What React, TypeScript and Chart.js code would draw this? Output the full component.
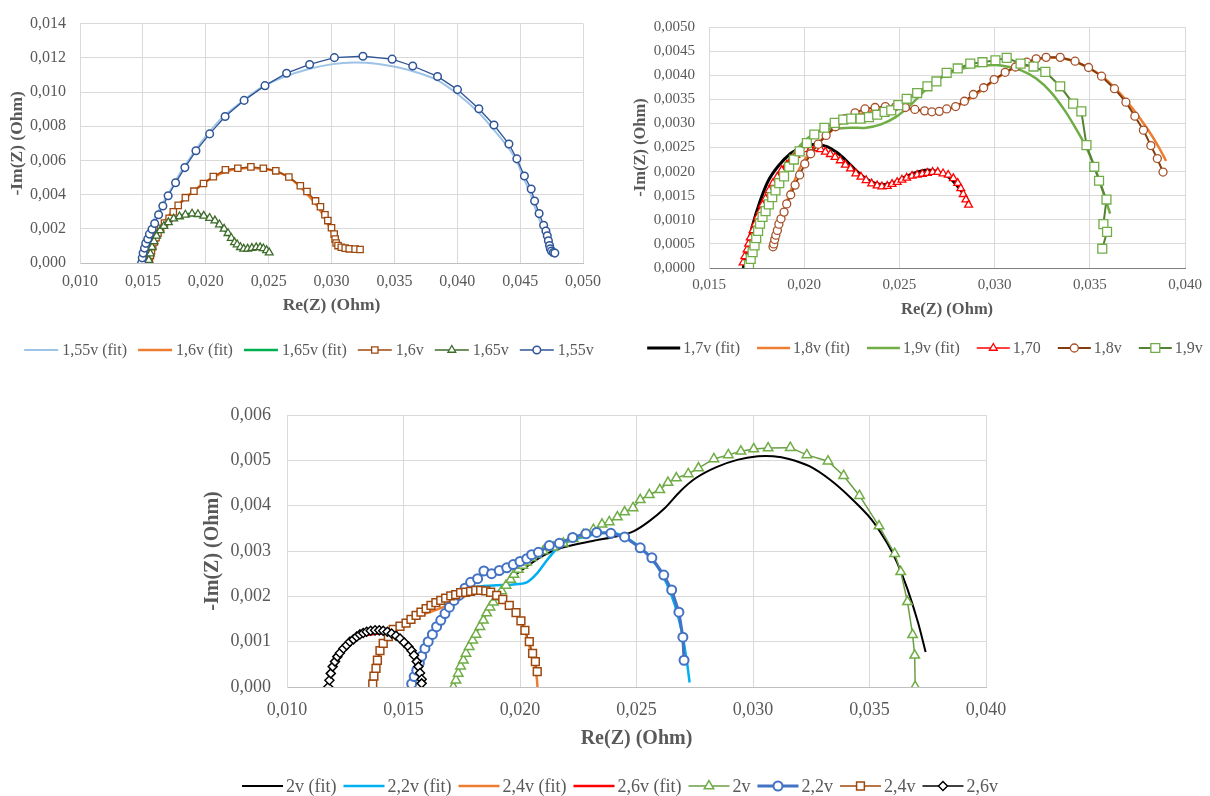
import React, { useEffect, useRef } from 'react';
import { Chart, registerables } from 'chart.js';

Chart.register(...registerables);

type P = [number, number];

// ---------------- Chart 1 (1,55v / 1,6v / 1,65v) ----------------
const fit155: P[] = [[0.01490,0],[0.01497,0.0004],[0.01508,0.0008],[0.01525,0.0013],[0.01550,0.0018],[0.01580,0.0024],[0.01620,0.0030],[0.01670,0.00365],[0.01730,0.0044],[0.01800,0.0053],[0.01890,0.0063],[0.02000,0.0074],[0.02130,0.0085],[0.02280,0.0094],[0.02450,0.0103],[0.02630,0.0109],[0.02820,0.01135],[0.03010,0.01163],[0.03180,0.01172],[0.03360,0.01165],[0.03550,0.0114],[0.03700,0.0111],[0.03840,0.0107],[0.04000,0.0099],[0.04170,0.0088],[0.04290,0.0078],[0.04400,0.0068],[0.04470,0.0060],[0.04520,0.0051],[0.04580,0.0041],[0.04630,0.0030],[0.04680,0.0020],[0.04715,0.0012],[0.04735,0.0007],[0.04750,0.0004]];
const fit16: P[] = [[0.01550,0],[0.01558,0.0004],[0.01570,0.0008],[0.01590,0.0013],[0.01620,0.0018],[0.01660,0.0023],[0.01710,0.0028],[0.01770,0.0033],[0.01840,0.0038],[0.01920,0.0043],[0.02010,0.0048],[0.02110,0.0052],[0.02210,0.00545],[0.02320,0.00556],[0.02430,0.00553],[0.02540,0.0054],[0.02640,0.0051],[0.02730,0.0046],[0.02810,0.0040],[0.02880,0.0034],[0.02940,0.0027],[0.02990,0.0020],[0.03025,0.0014],[0.03050,0.0010],[0.03090,0.00088],[0.03150,0.00082],[0.03230,0.00078]];
const fit165: P[] = [[0.01545,0],[0.01560,0.0006],[0.01580,0.0012],[0.01620,0.0018],[0.01670,0.0023],[0.01740,0.0026],[0.01820,0.00282],[0.01900,0.00288],[0.01980,0.0028],[0.02050,0.00258],[0.02110,0.0022],[0.02170,0.00175],[0.02220,0.00128],[0.02270,0.00095],[0.02320,0.00083],[0.02380,0.00088],[0.02440,0.0009],[0.02500,0.00065]];
const data16: P[] = [[0.01552,0.00021],[0.01560,0.00045],[0.01568,0.00070],[0.01578,0.00096],[0.01591,0.00123],[0.01604,0.00148],[0.01620,0.00174],[0.01641,0.00203],[0.01672,0.00234],[0.01709,0.00261],[0.01742,0.00299],[0.01781,0.00337],[0.01838,0.00382],[0.01906,0.00420],[0.01982,0.00465],[0.02060,0.00505],[0.02156,0.00545],[0.02255,0.00554],[0.02359,0.00562],[0.02458,0.00554],[0.02557,0.00539],[0.02661,0.00503],[0.02752,0.00452],[0.02805,0.00418],[0.02873,0.00363],[0.02912,0.00329],[0.02948,0.00282],[0.02971,0.00248],[0.03000,0.00206],[0.03021,0.00169],[0.03029,0.00140],[0.03037,0.00117],[0.03052,0.00102],[0.03078,0.00092],[0.03109,0.00087],[0.03141,0.00083],[0.03188,0.00081],[0.03227,0.00079]];
const data165: P[] = [[0.01547,0.00017],[0.01560,0.00055],[0.01573,0.00093],[0.01589,0.00127],[0.01609,0.00159],[0.01638,0.00191],[0.01667,0.00216],[0.01703,0.00238],[0.01745,0.00259],[0.01791,0.00272],[0.01838,0.00282],[0.01891,0.00288],[0.01938,0.00285],[0.01984,0.00276],[0.02031,0.00263],[0.02073,0.00248],[0.02109,0.00225],[0.02146,0.00200],[0.02177,0.00174],[0.02203,0.00146],[0.02229,0.00121],[0.02250,0.00108],[0.02276,0.00092],[0.02302,0.00083],[0.02333,0.00083],[0.02367,0.00087],[0.02401,0.00091],[0.02432,0.00091],[0.02458,0.00085],[0.02484,0.00074],[0.02505,0.00061]];
const data155: P[] = [[0.01490,0.00000],[0.01495,0.00030],[0.01502,0.00058],[0.01513,0.00087],[0.01523,0.00115],[0.01539,0.00140],[0.01552,0.00169],[0.01573,0.00197],[0.01594,0.00231],[0.01625,0.00282],[0.01659,0.00333],[0.01701,0.00393],[0.01760,0.00469],[0.01834,0.00558],[0.01922,0.00656],[0.02031,0.00755],[0.02154,0.00857],[0.02305,0.00951],[0.02471,0.01037],[0.02643,0.01110],[0.02826,0.01161],[0.03023,0.01201],[0.03250,0.01209],[0.03482,0.01192],[0.03646,0.01152],[0.03843,0.01091],[0.04002,0.01014],[0.04172,0.00902],[0.04292,0.00807],[0.04411,0.00696],[0.04474,0.00609],[0.04534,0.00509],[0.04588,0.00433],[0.04615,0.00363],[0.04651,0.00289],[0.04687,0.00221],[0.04705,0.00187],[0.04716,0.00159],[0.04725,0.00130],[0.04734,0.00102],[0.04740,0.00083],[0.04749,0.00070],[0.04764,0.00061],[0.04776,0.00058]];

// ---------------- Chart 2 (1,7v / 1,8v / 1,9v) ----------------
const fit17: P[] = [[0.01680,0],[0.01700,0.0004],[0.01730,0.0009],[0.01765,0.00135],[0.01810,0.0018],[0.01865,0.00212],[0.01930,0.00238],[0.01995,0.00252],[0.02060,0.00257],[0.02120,0.00252],[0.02170,0.0024],[0.02220,0.00223],[0.02270,0.00203],[0.02320,0.00186],[0.02370,0.00176],[0.02420,0.00173],[0.02470,0.00177],[0.02520,0.00187],[0.02570,0.00196],[0.02620,0.00202],[0.02660,0.00203],[0.02710,0.00199],[0.02760,0.00188],[0.02800,0.00172],[0.02840,0.00152],[0.02860,0.0014]];
const fit18: P[] = [[0.01840,0.0004],[0.01870,0.0009],[0.01920,0.0015],[0.01980,0.0021],[0.02050,0.0025],[0.02130,0.0028],[0.02210,0.00305],[0.02300,0.0032],[0.02400,0.00329],[0.02500,0.00331],[0.02600,0.00328],[0.02680,0.00326],[0.02760,0.0033],[0.02840,0.00343],[0.02920,0.00365],[0.03000,0.0039],[0.03080,0.00411],[0.03160,0.00426],[0.03240,0.00434],[0.03320,0.00436],[0.03400,0.00431],[0.03480,0.00418],[0.03560,0.00399],[0.03640,0.0037],[0.03720,0.00333],[0.03800,0.0029],[0.03860,0.00252],[0.03900,0.00222]];
const fit19: P[] = [[0.01710,0],[0.01723,0.00023],[0.01781,0.00113],[0.01859,0.00189],[0.01937,0.00234],[0.02014,0.00268],[0.02092,0.00286],[0.02170,0.00289],[0.02247,0.00291],[0.02325,0.00291],[0.02403,0.00298],[0.02480,0.00313],[0.02558,0.00338],[0.02636,0.00369],[0.02713,0.00393],[0.02791,0.00409],[0.02868,0.00417],[0.02946,0.0042],[0.03004,0.00421],[0.03063,0.00418],[0.03140,0.0041],[0.03218,0.00393],[0.03295,0.00365],[0.03373,0.00324],[0.03431,0.00286],[0.03480,0.00251],[0.03528,0.00206],[0.03567,0.00161],[0.03606,0.00113]];
const data170: P[] = [[0.01679,0.00011],[0.01688,0.00024],[0.01700,0.00038],[0.01708,0.00050],[0.01717,0.00063],[0.01731,0.00078],[0.01743,0.00091],[0.01756,0.00106],[0.01770,0.00118],[0.01781,0.00131],[0.01797,0.00144],[0.01816,0.00161],[0.01836,0.00176],[0.01859,0.00189],[0.01882,0.00203],[0.01908,0.00214],[0.01933,0.00225],[0.01956,0.00234],[0.01981,0.00241],[0.02009,0.00246],[0.02034,0.00247],[0.02059,0.00248],[0.02086,0.00246],[0.02111,0.00241],[0.02137,0.00236],[0.02162,0.00230],[0.02189,0.00223],[0.02216,0.00214],[0.02243,0.00206],[0.02271,0.00196],[0.02298,0.00189],[0.02325,0.00182],[0.02354,0.00175],[0.02383,0.00171],[0.02408,0.00169],[0.02436,0.00170],[0.02461,0.00174],[0.02488,0.00178],[0.02513,0.00183],[0.02538,0.00187],[0.02566,0.00191],[0.02593,0.00193],[0.02620,0.00195],[0.02647,0.00197],[0.02674,0.00199],[0.02701,0.00199],[0.02729,0.00196],[0.02756,0.00193],[0.02783,0.00186],[0.02806,0.00176],[0.02822,0.00165],[0.02835,0.00153],[0.02849,0.00142],[0.02863,0.00131]];
const data18: P[] = [[0.01836,0.00044],[0.01840,0.00050],[0.01845,0.00059],[0.01851,0.00068],[0.01859,0.00078],[0.01867,0.00091],[0.01878,0.00102],[0.01894,0.00116],[0.01908,0.00133],[0.01929,0.00152],[0.01952,0.00172],[0.01976,0.00193],[0.02003,0.00216],[0.02034,0.00237],[0.02073,0.00257],[0.02115,0.00275],[0.02164,0.00293],[0.02214,0.00310],[0.02267,0.00322],[0.02319,0.00330],[0.02372,0.00333],[0.02426,0.00335],[0.02480,0.00335],[0.02531,0.00333],[0.02581,0.00329],[0.02632,0.00326],[0.02670,0.00324],[0.02709,0.00325],[0.02748,0.00330],[0.02795,0.00335],[0.02841,0.00346],[0.02888,0.00360],[0.02942,0.00374],[0.02997,0.00391],[0.03055,0.00406],[0.03109,0.00417],[0.03169,0.00427],[0.03218,0.00434],[0.03270,0.00437],[0.03344,0.00437],[0.03422,0.00429],[0.03493,0.00416],[0.03561,0.00398],[0.03629,0.00372],[0.03689,0.00344],[0.03736,0.00315],[0.03781,0.00286],[0.03820,0.00254],[0.03854,0.00227],[0.03884,0.00199]];
const data19: P[] = [[0.01710,0.00006],[0.01719,0.00019],[0.01729,0.00033],[0.01739,0.00047],[0.01748,0.00062],[0.01758,0.00077],[0.01768,0.00092],[0.01781,0.00106],[0.01797,0.00118],[0.01814,0.00132],[0.01832,0.00147],[0.01849,0.00161],[0.01869,0.00176],[0.01894,0.00190],[0.01921,0.00210],[0.01946,0.00225],[0.01976,0.00242],[0.02014,0.00259],[0.02053,0.00277],[0.02106,0.00291],[0.02160,0.00301],[0.02205,0.00308],[0.02247,0.00310],[0.02296,0.00310],[0.02340,0.00313],[0.02383,0.00318],[0.02422,0.00324],[0.02457,0.00327],[0.02494,0.00338],[0.02538,0.00351],[0.02593,0.00363],[0.02647,0.00377],[0.02694,0.00387],[0.02748,0.00405],[0.02806,0.00414],[0.02872,0.00424],[0.02936,0.00427],[0.03004,0.00431],[0.03063,0.00436],[0.03136,0.00424],[0.03204,0.00418],[0.03266,0.00407],[0.03344,0.00377],[0.03412,0.00341],[0.03455,0.00325],[0.03482,0.00255],[0.03523,0.00210],[0.03548,0.00181],[0.03587,0.00142],[0.03571,0.00091],[0.03590,0.00075],[0.03565,0.00040]];

// ---------------- Chart 3 (2v / 2,2v / 2,4v / 2,6v) ----------------
const fit20: P[] = [[0.01712,0],[0.01740,0.0004],[0.01780,0.0009],[0.01830,0.0014],[0.01880,0.0019],[0.01940,0.0023],[0.02013,0.0026],[0.02100,0.0029],[0.02179,0.00307],[0.02312,0.00322],[0.02422,0.00333],[0.02489,0.00344],[0.02555,0.00366],[0.02622,0.00395],[0.02688,0.00432],[0.02755,0.00461],[0.02843,0.00485],[0.02932,0.00501],[0.03021,0.00509],[0.03087,0.00509],[0.03154,0.00503],[0.03242,0.00487],[0.03331,0.00457],[0.03420,0.00417],[0.03508,0.0037],[0.03575,0.00318],[0.03619,0.00274],[0.03663,0.00216],[0.03708,0.00143],[0.03741,0.00077]];
const fit22: P[] = [[0.01530,0],[0.01560,0.0004],[0.01600,0.0009],[0.01640,0.00135],[0.01680,0.0017],[0.01714,0.00195],[0.01760,0.0021],[0.01800,0.0022],[0.01885,0.00224],[0.01971,0.00226],[0.02029,0.00231],[0.02072,0.0025],[0.02115,0.00279],[0.02158,0.00305],[0.02200,0.00319],[0.02258,0.00329],[0.02336,0.00338],[0.02390,0.00341],[0.02440,0.00334],[0.02490,0.00318],[0.02540,0.00296],[0.02590,0.00265],[0.02630,0.00228],[0.02665,0.0018],[0.02695,0.0012],[0.02715,0.0006],[0.02728,0.0001]];
const fit24: P[] = [[0.01370,0],[0.01390,0.0006],[0.01420,0.0010],[0.01460,0.0013],[0.01520,0.00145],[0.01580,0.0016],[0.01640,0.0017],[0.01700,0.00183],[0.01750,0.00197],[0.01800,0.00207],[0.01850,0.0021],[0.01900,0.00203],[0.01950,0.00183],[0.01990,0.00158],[0.02020,0.00125],[0.02040,0.0009],[0.02062,0.0005],[0.02072,0.0002],[0.02075,0]];
const fit26: P[] = [[0.01180,0],[0.01190,0.0003],[0.01210,0.0006],[0.01240,0.00085],[0.01280,0.00102],[0.01320,0.00112],[0.01360,0.00116],[0.01400,0.00118],[0.01440,0.00117],[0.01480,0.00108],[0.01520,0.0009],[0.01550,0.0006],[0.01570,0.0003],[0.01580,0]];
const data20: P[] = [[0.01714,0.00000],[0.01725,0.00015],[0.01735,0.00030],[0.01745,0.00046],[0.01757,0.00059],[0.01768,0.00074],[0.01782,0.00089],[0.01797,0.00103],[0.01811,0.00116],[0.01828,0.00133],[0.01843,0.00147],[0.01857,0.00163],[0.01871,0.00176],[0.01885,0.00187],[0.01903,0.00198],[0.01921,0.00212],[0.01940,0.00224],[0.01960,0.00237],[0.01974,0.00248],[0.01993,0.00259],[0.02012,0.00268],[0.02029,0.00275],[0.02050,0.00285],[0.02072,0.00292],[0.02100,0.00300],[0.02143,0.00308],[0.02186,0.00317],[0.02229,0.00327],[0.02272,0.00336],[0.02315,0.00347],[0.02352,0.00359],[0.02383,0.00364],[0.02418,0.00375],[0.02449,0.00386],[0.02485,0.00395],[0.02516,0.00413],[0.02555,0.00424],[0.02600,0.00435],[0.02635,0.00451],[0.02671,0.00461],[0.02722,0.00470],[0.02766,0.00483],[0.02832,0.00503],[0.02894,0.00512],[0.02948,0.00520],[0.03003,0.00525],[0.03065,0.00527],[0.03160,0.00528],[0.03231,0.00512],[0.03322,0.00498],[0.03389,0.00466],[0.03457,0.00422],[0.03541,0.00355],[0.03608,0.00294],[0.03634,0.00254],[0.03663,0.00188],[0.03685,0.00115],[0.03694,0.00070],[0.03696,0.00001]];
const data22: P[] = [[0.01535,0.00007],[0.01546,0.00023],[0.01557,0.00037],[0.01568,0.00053],[0.01578,0.00068],[0.01592,0.00085],[0.01606,0.00100],[0.01624,0.00116],[0.01642,0.00133],[0.01660,0.00147],[0.01678,0.00162],[0.01697,0.00176],[0.01717,0.00191],[0.01738,0.00202],[0.01764,0.00218],[0.01788,0.00231],[0.01818,0.00239],[0.01845,0.00256],[0.01878,0.00250],[0.01911,0.00257],[0.01943,0.00263],[0.01971,0.00270],[0.02000,0.00277],[0.02029,0.00283],[0.02050,0.00292],[0.02079,0.00297],[0.02126,0.00312],[0.02169,0.00317],[0.02226,0.00330],[0.02283,0.00338],[0.02329,0.00341],[0.02390,0.00339],[0.02449,0.00331],[0.02516,0.00307],[0.02566,0.00285],[0.02617,0.00247],[0.02651,0.00214],[0.02682,0.00165],[0.02699,0.00110],[0.02704,0.00059]];
const data24: P[] = [[0.01368,0.00007],[0.01373,0.00024],[0.01382,0.00041],[0.01388,0.00059],[0.01399,0.00080],[0.01413,0.00096],[0.01435,0.00111],[0.01456,0.00127],[0.01485,0.00134],[0.01511,0.00141],[0.01532,0.00149],[0.01554,0.00158],[0.01575,0.00165],[0.01597,0.00173],[0.01618,0.00180],[0.01639,0.00186],[0.01660,0.00191],[0.01681,0.00196],[0.01703,0.00201],[0.01724,0.00204],[0.01745,0.00208],[0.01767,0.00209],[0.01788,0.00211],[0.01810,0.00213],[0.01831,0.00213],[0.01853,0.00212],[0.01874,0.00209],[0.01900,0.00202],[0.01926,0.00193],[0.01954,0.00180],[0.01983,0.00164],[0.02004,0.00146],[0.02021,0.00125],[0.02040,0.00100],[0.02054,0.00074],[0.02066,0.00056],[0.02074,0.00034]];
const data26: P[] = [[0.01177,0.00000],[0.01182,0.00015],[0.01188,0.00030],[0.01196,0.00045],[0.01206,0.00056],[0.01216,0.00067],[0.01227,0.00075],[0.01242,0.00085],[0.01256,0.00092],[0.01270,0.00100],[0.01285,0.00105],[0.01299,0.00111],[0.01313,0.00116],[0.01327,0.00119],[0.01342,0.00122],[0.01359,0.00124],[0.01378,0.00125],[0.01396,0.00125],[0.01413,0.00124],[0.01431,0.00122],[0.01449,0.00118],[0.01468,0.00113],[0.01485,0.00107],[0.01503,0.00098],[0.01521,0.00089],[0.01535,0.00080],[0.01545,0.00070],[0.01557,0.00056],[0.01564,0.00045],[0.01571,0.00031],[0.01578,0.00017],[0.01578,0.00008]];

// ---------------- rendering ----------------
const FONT = "'Liberation Serif', 'Times New Roman', serif";
const TXT = '#595959';

type Series = {
  label: string; pts: P[]; color: string; width: number;
  marker?: string; mColor?: string; r?: number; mWidth?: number;
};

function fmt(v: number, d: number) {
  return Number(v).toFixed(d).replace('.', ',');
}

function markerPath(ctx: CanvasRenderingContext2D, style: string, x: number, y: number, r: number) {
  ctx.beginPath();
  if (style === 'circle') {
    ctx.arc(x, y, r, 0, Math.PI * 2);
  } else if (style === 'rect') {
    const s = Math.SQRT1_2 * r;
    ctx.rect(x - s, y - s, 2 * s, 2 * s);
  } else if (style === 'triangle') {
    for (let k = 0; k < 3; k++) {
      const a = (k * 2 * Math.PI) / 3;
      const px = x + Math.sin(a) * r;
      const py = y - Math.cos(a) * r;
      if (k === 0) ctx.moveTo(px, py); else ctx.lineTo(px, py);
    }
    ctx.closePath();
  } else if (style === 'rectRot') {
    ctx.moveTo(x - r, y); ctx.lineTo(x, y - r); ctx.lineTo(x + r, y); ctx.lineTo(x, y + r);
    ctx.closePath();
  }
}

const legendPlugin = {
  id: 'xlLegend',
  afterDraw(chart: any, _args: any, opts: any) {
    const ctx: CanvasRenderingContext2D = chart.ctx;
    const series: Series[] = opts.series;
    ctx.save();
    ctx.font = `${opts.size}px ${FONT}`;
    const widths = series.map((s) => opts.lineLen + opts.gap + ctx.measureText(s.label).width);
    const total = widths.reduce((a, b) => a + b, 0) + opts.spacing * (series.length - 1);
    let x = opts.cx - total / 2;
    const y = opts.y;
    series.forEach((s, i) => {
      ctx.strokeStyle = s.color;
      ctx.lineWidth = s.width;
      ctx.beginPath();
      ctx.moveTo(x, y);
      ctx.lineTo(x + opts.lineLen, y);
      ctx.stroke();
      if (s.marker) {
        ctx.fillStyle = '#FFFFFF';
        ctx.strokeStyle = s.mColor || s.color;
        ctx.lineWidth = s.mWidth || 1.5;
        markerPath(ctx, s.marker, x + opts.lineLen / 2, y, s.r || 4);
        ctx.fill();
        ctx.stroke();
      }
      ctx.fillStyle = TXT;
      ctx.textBaseline = 'middle';
      ctx.textAlign = 'left';
      ctx.fillText(s.label, x + opts.lineLen + opts.gap, y + 1);
      x += widths[i] + opts.spacing;
    });
    ctx.restore();
  },
};

type Cfg = {
  left: number; top: number; w: number; h: number;
  pad: { left: number; top: number; right: number; bottom: number };
  yW: number; xH: number;
  xMin: number; xMax: number; xStep: number; xDec: number;
  yMin: number; yMax: number; yStep: number; yDec: number;
  tickSize: number; titleSize: number; xTickPad: number; yTickPad: number; yTitlePad: number;
  xBorder: string;
  legend: { y: number; cx: number; size: number; lineLen: number; gap: number; spacing: number };
  series: Series[];
};

function NyquistChart({ cfg }: { cfg: Cfg }) {
  const ref = useRef<HTMLCanvasElement>(null);
  useEffect(() => {
    const n = cfg.series.length;
    const datasets = cfg.series.map((s, i) => ({
      label: s.label,
      data: s.pts.map(([x, y]) => ({ x, y })),
      showLine: true,
      borderColor: s.color,
      borderWidth: s.width,
      backgroundColor: '#FFFFFF',
      tension: s.marker ? 0 : 0.3,
      pointStyle: s.marker || 'circle',
      pointRadius: s.marker ? s.r : 0,
      pointHoverRadius: s.marker ? s.r : 0,
      pointBorderColor: s.mColor || s.color,
      pointBackgroundColor: '#FFFFFF',
      pointBorderWidth: s.mWidth || 1.5,
      order: n - 1 - i,
    }));
    const chart = new Chart(ref.current as HTMLCanvasElement, {
      type: 'scatter',
      data: { datasets } as any,
      plugins: [legendPlugin as any],
      options: {
        animation: false,
        responsive: false,
        devicePixelRatio: 1,
        events: [],
        layout: { padding: cfg.pad },
        plugins: {
          legend: { display: false },
          tooltip: { enabled: false },
          xlLegend: { ...cfg.legend, series: cfg.series },
        } as any,
        scales: {
          x: {
            type: 'linear',
            min: cfg.xMin,
            max: cfg.xMax,
            ticks: {
              stepSize: cfg.xStep,
              autoSkip: false,
              maxRotation: 0,
              color: TXT,
              padding: cfg.xTickPad,
              font: { family: FONT, size: cfg.tickSize },
              callback: (v: any) => fmt(v, cfg.xDec),
            },
            grid: { color: '#D9D9D9', lineWidth: 1, drawTicks: false },
            border: { color: cfg.xBorder, width: 1 },
            title: {
              display: true,
              text: 'Re(Z) (Ohm)',
              color: TXT,
              padding: 0,
              font: { family: FONT, size: cfg.titleSize, weight: 'bold' },
            },
            afterFit: (s: any) => { s.height = cfg.xH; },
          },
          y: {
            type: 'linear',
            min: cfg.yMin,
            max: cfg.yMax,
            ticks: {
              stepSize: cfg.yStep,
              autoSkip: false,
              color: TXT,
              padding: cfg.yTickPad,
              font: { family: FONT, size: cfg.tickSize },
              callback: (v: any) => fmt(v, cfg.yDec),
            },
            grid: { color: '#D9D9D9', lineWidth: 1, drawTicks: false },
            border: { color: '#D9D9D9', width: 1 },
            title: {
              display: true,
              text: '-Im(Z) (Ohm)',
              color: TXT,
              padding: { top: cfg.yTitlePad, bottom: 0 },
              font: { family: FONT, size: cfg.titleSize, weight: 'bold' },
            },
            afterFit: (s: any) => { s.width = cfg.yW; },
          },
        } as any,
      },
    } as any);
    return () => chart.destroy();
  }, [cfg]);
  return (
    <div style={{ position: 'absolute', left: cfg.left, top: cfg.top, width: cfg.w, height: cfg.h }}>
      <canvas ref={ref} width={cfg.w} height={cfg.h} style={{ width: cfg.w, height: cfg.h, display: 'block' }} />
    </div>
  );
}

const chart1: Cfg = {
  left: 0, top: 0, w: 610, h: 370,
  pad: { left: 0, top: 16, right: 18, bottom: 54 },
  yW: 80, xH: 53,
  xMin: 0.010, xMax: 0.050, xStep: 0.005, xDec: 3,
  yMin: 0, yMax: 0.014, yStep: 0.002, yDec: 3,
  tickSize: 16, titleSize: 17.5, xTickPad: 9, yTickPad: 14, yTitlePad: 7,
  xBorder: '#BFBFBF',
  legend: { y: 350, cx: 309, size: 16, lineLen: 34, gap: 4, spacing: 11 },
  series: [
    { label: '1,55v (fit)', pts: fit155, color: '#9DC3E6', width: 2 },
    { label: '1,6v (fit)', pts: fit16, color: '#ED7D31', width: 2.5 },
    { label: '1,65v (fit)', pts: fit165, color: '#00B050', width: 2.5 },
    { label: '1,6v', pts: data16, color: '#9E480E', width: 1.5, marker: 'rect', r: 4.5, mWidth: 1.3 },
    { label: '1,65v', pts: data165, color: '#3D6B2A', width: 1.5, marker: 'triangle', r: 4.5, mWidth: 1.3 },
    { label: '1,55v', pts: data155, color: '#2F5597', width: 1.3, marker: 'circle', r: 3.8, mWidth: 1.5 },
  ],
};

const chart2: Cfg = {
  left: 620, top: 0, w: 590, h: 370,
  pad: { left: 0, top: 27, right: 24, bottom: 50 },
  yW: 89, xH: 52,
  xMin: 0.015, xMax: 0.040, xStep: 0.005, xDec: 3,
  yMin: 0, yMax: 0.005, yStep: 0.0005, yDec: 4,
  tickSize: 15, titleSize: 16.5, xTickPad: 8, yTickPad: 14, yTitlePad: 11,
  xBorder: '#7F7F7F',
  legend: { y: 348, cx: 305, size: 16, lineLen: 33, gap: 3, spacing: 17 },
  series: [
    { label: '1,7v (fit)', pts: fit17, color: '#000000', width: 3 },
    { label: '1,8v (fit)', pts: fit18, color: '#ED7D31', width: 2.5 },
    { label: '1,9v (fit)', pts: fit19, color: '#70AD47', width: 2.5 },
    { label: '1,70', pts: data170, color: '#FF0000', width: 1.5, marker: 'triangle', r: 4.5, mWidth: 1.3 },
    { label: '1,8v', pts: data18, color: '#843C0C', width: 2, marker: 'circle', r: 4, mWidth: 1.3, mColor: '#A5502A' },
    { label: '1,9v', pts: data19, color: '#548235', width: 2, marker: 'rect', r: 6.3, mWidth: 1.3, mColor: '#70AD47' },
  ],
};

const chart3: Cfg = {
  left: 200, top: 380, w: 820, h: 416,
  pad: { left: 0, top: 35, right: 34, bottom: 45 },
  yW: 87, xH: 64,
  xMin: 0.010, xMax: 0.040, xStep: 0.005, xDec: 3,
  yMin: 0, yMax: 0.006, yStep: 0.001, yDec: 3,
  tickSize: 18, titleSize: 20, xTickPad: 12, yTickPad: 16, yTitlePad: 1,
  xBorder: '#BFBFBF',
  legend: { y: 406, cx: 420, size: 18, lineLen: 41, gap: 3, spacing: 7 },
  series: [
    { label: '2v (fit)', pts: fit20, color: '#000000', width: 2 },
    { label: '2,2v (fit)', pts: fit22, color: '#00B0F0', width: 2.5 },
    { label: '2,4v (fit)', pts: fit24, color: '#ED7D31', width: 2.5 },
    { label: '2,6v (fit)', pts: fit26, color: '#FF0000', width: 2.5 },
    { label: '2v', pts: data20, color: '#6A9E45', width: 1.5, marker: 'triangle', r: 5.5, mWidth: 1.5, mColor: '#70AD47' },
    { label: '2,2v', pts: data22, color: '#4472C4', width: 3, marker: 'circle', r: 4.5, mWidth: 2 },
    { label: '2,4v', pts: data24, color: '#9E480E', width: 1.5, marker: 'rect', r: 5.5, mWidth: 1.5 },
    { label: '2,6v', pts: data26, color: '#000000', width: 1.5, marker: 'rectRot', r: 4.5, mWidth: 1.5 },
  ],
};

export default function App() {
  return (
    <div style={{ position: 'absolute', left: 0, top: 0, width: 1210, height: 796, background: '#FFFFFF' }}>
      <NyquistChart cfg={chart1} />
      <NyquistChart cfg={chart2} />
      <NyquistChart cfg={chart3} />
    </div>
  );
}
